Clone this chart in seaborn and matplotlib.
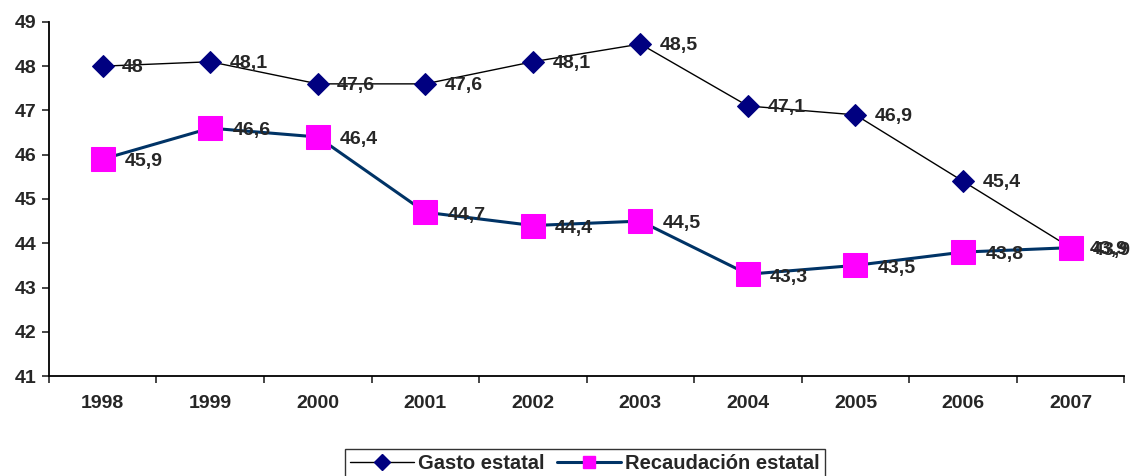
import numpy as np
import pandas as pd
import matplotlib
matplotlib.use("Agg")
import matplotlib.pyplot as plt
from matplotlib.lines import Line2D
import seaborn as sns

# datos
years = ["1998", "1999", "2000", "2001", "2002", "2003", "2004", "2005", "2006", "2007"]
gasto = [48.0, 48.1, 47.6, 47.6, 48.1, 48.5, 47.1, 46.9, 45.4, 43.9]
recaudacion = [45.9, 46.6, 46.4, 44.7, 44.4, 44.5, 43.3, 43.5, 43.8, 43.9]

sns.set_style("ticks")
plt.rcParams["font.family"] = ["Liberation Sans", "DejaVu Sans"]
plt.rcParams["font.weight"] = "bold"

pos = np.arange(len(years))
df_g = pd.DataFrame({"x": pos, "valor": gasto})
df_r = pd.DataFrame({"x": pos, "valor": recaudacion})

fig = plt.figure(figsize=(11.38, 4.76), dpi=100)
ax = fig.add_axes([0.043, 0.21, 0.945, 0.744])

sns.lineplot(data=df_g, x="x", y="valor", ax=ax, color="black", linewidth=1.0,
             marker="D", markersize=11, markerfacecolor="#000080",
             markeredgecolor="#000080", legend=False)
sns.lineplot(data=df_r, x="x", y="valor", ax=ax, color="#003366", linewidth=2.2,
             marker="s", markersize=17, markerfacecolor="#FF00FF",
             markeredgecolor="#FF00FF", legend=False)

def fmt(v):
    s = f"{v:.1f}".replace(".", ",")
    return s[:-2] if s.endswith(",0") else s

for x, v in zip(pos, gasto):
    ax.annotate(fmt(v), (x, v), xytext=(14, -1), textcoords="offset points",
                ha="left", va="center", fontsize=14, fontweight="bold")
for x, v in zip(pos, recaudacion):
    ax.annotate(fmt(v), (x, v), xytext=(16, -2), textcoords="offset points",
                ha="left", va="center", fontsize=14, fontweight="bold")

ax.set_xlim(-0.5, len(years) - 0.5)
ax.set_ylim(41, 49)
ax.set_yticks(range(41, 50))
ax.set_xticks(np.arange(-0.5, len(years), 1.0))
ax.set_xticklabels([])
ax.set_xticks(pos, minor=True)
ax.set_xticklabels(years, minor=True)
ax.tick_params(axis="x", which="minor", length=0, pad=14, labelsize=14)
ax.tick_params(axis="x", which="major", length=5, width=1.2, direction="out")
ax.tick_params(axis="y", length=5, width=1.2, labelsize=14, pad=4)
for lbl in ax.get_xticklabels(minor=True) + ax.get_yticklabels():
    lbl.set_fontweight("bold")
ax.set_xlabel("")
ax.set_ylabel("")
sns.despine(ax=ax)
for s in ["left", "bottom"]:
    ax.spines[s].set_linewidth(1.3)
    ax.spines[s].set_color("black")

h = [
    Line2D([], [], color="black", linewidth=1.0, marker="D", markersize=8,
           markerfacecolor="#000080", markeredgecolor="#000080"),
    Line2D([], [], color="#003366", linewidth=2.2, marker="s", markersize=9,
           markerfacecolor="#FF00FF", markeredgecolor="#FF00FF"),
]
leg = fig.legend(h, ["Gasto estatal", "Recaudación estatal"], loc="lower center",
                 bbox_to_anchor=(0.514, -0.025), ncol=2,
                 frameon=True, fancybox=False, edgecolor="black",
                 prop={"size": 14.5, "weight": "bold"}, handlelength=3.2,
                 handletextpad=0.2, columnspacing=0.6, borderpad=0.25)
leg.get_frame().set_linewidth(1.0)

fig.savefig("out.png", dpi=100)
